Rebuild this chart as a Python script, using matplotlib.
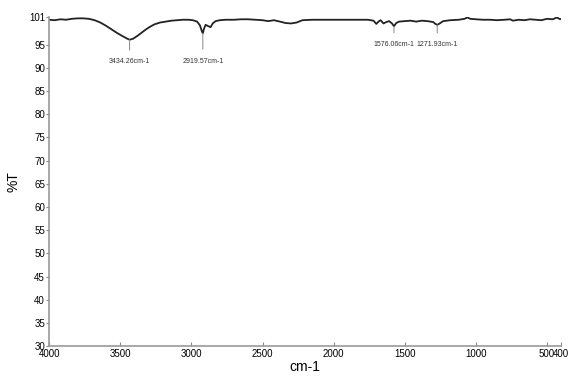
import matplotlib
matplotlib.use("Agg")
import matplotlib.pyplot as plt
from matplotlib import font_manager

# wavenumber (cm-1) and transmittance (%T)
wavenumber = [4000, 3960, 3920, 3880, 3840, 3800, 3760, 3720, 3680, 3640,
              3600, 3560, 3520, 3480, 3450, 3434, 3410, 3380, 3350, 3320,
              3290, 3260, 3220, 3180, 3140, 3100, 3060, 3020, 2990, 2960,
              2940, 2925, 2919, 2912, 2900, 2880, 2865, 2850, 2830, 2800,
              2760, 2700, 2650, 2600, 2550, 2500, 2460, 2420, 2364, 2340,
              2300, 2260, 2220, 2150, 2050, 1950, 1850, 1760, 1720, 1700,
              1685, 1670, 1650, 1630, 1610, 1590, 1576, 1560, 1540, 1500,
              1460, 1420, 1380, 1340, 1300, 1285, 1271, 1255, 1230, 1180,
              1120, 1080, 1060, 1040, 1000, 950, 900, 850, 800, 760,
              740, 700, 660, 620, 580, 540, 500, 460, 430, 415, 400]
transmittance = [100.4, 100.3, 100.5, 100.4, 100.6, 100.7, 100.7, 100.6, 100.3, 99.8,
                 99.1, 98.3, 97.5, 96.8, 96.3, 96.1, 96.3, 96.9, 97.6, 98.3,
                 98.9, 99.4, 99.8, 100.0, 100.2, 100.3, 100.4, 100.4, 100.3, 100.0,
                 99.2, 97.8, 97.5, 98.4, 99.3, 99.0, 98.8, 99.6, 100.1, 100.3,
                 100.4, 100.4, 100.5, 100.5, 100.4, 100.3, 100.1, 100.3, 99.9, 99.7,
                 99.6, 99.8, 100.3, 100.4, 100.4, 100.4, 100.4, 100.4, 100.2, 99.5,
                 100.0, 100.3, 99.6, 99.9, 100.1, 99.6, 99.0, 99.7, 100.0, 100.1,
                 100.2, 100.0, 100.2, 100.1, 99.9, 99.5, 99.3, 99.6, 100.1, 100.3,
                 100.4, 100.6, 100.9, 100.6, 100.5, 100.4, 100.4, 100.3, 100.4, 100.5,
                 100.2, 100.4, 100.3, 100.5, 100.4, 100.3, 100.6, 100.5, 100.9, 100.6, 100.5]

peak_pos = [3434.26, 2919.57, 1576.06, 1271.93]
peak_T = [96.1, 97.5, 99.0, 99.3]
peak_label_T = [91.3, 91.5, 95.0, 95.0]

x_ticks = [4000, 3500, 3000, 2500, 2000, 1500, 1000, 500, 400]
y_ticks = [30, 35, 40, 45, 50, 55, 60, 65, 70, 75, 80, 85, 90, 95, 101]

names = {f.name for f in font_manager.fontManager.ttflist}
fam = "Liberation Sans Narrow" if "Liberation Sans Narrow" in names else "Liberation Sans"
plt.rcParams['font.family'] = fam

fig = plt.figure(figsize=(5.71, 3.77), dpi=100)
ax = fig.add_axes([0.086, 0.082, 0.897, 0.873])

ax.plot(wavenumber, transmittance, color='#222222', linewidth=1.3)

for p, t, lt in zip(peak_pos, peak_T, peak_label_T):
    ax.annotate(f"{p:.2f}cm-1", xy=(p, t), xytext=(p, lt),
                ha='center', va='center', fontsize=5, color='#333333',
                arrowprops=dict(arrowstyle='-', color='#888888', lw=0.7,
                                shrinkA=4, shrinkB=0))

ax.set_xlim(4000, 400)
ax.set_ylim(30, 101)
ax.set_xticks(x_ticks)
ax.set_yticks(y_ticks)
ax.set_xticklabels([str(v) for v in x_ticks], fontsize=7)
ax.set_yticklabels([str(v) for v in y_ticks], fontsize=7)
ax.tick_params(axis='x', direction='in', length=3, pad=2, color='#888888')
ax.tick_params(axis='y', direction='out', length=2, pad=1, color='#888888')

for s in ['top', 'right']:
    ax.spines[s].set_visible(False)
for s in ['left', 'bottom']:
    ax.spines[s].set_color('#999999')
    ax.spines[s].set_linewidth(1.2)

ax.set_xlabel('cm-1', fontsize=10, labelpad=1)
ax.set_ylabel('%T', fontsize=10, labelpad=6)

fig.savefig('out.png', dpi=100)
